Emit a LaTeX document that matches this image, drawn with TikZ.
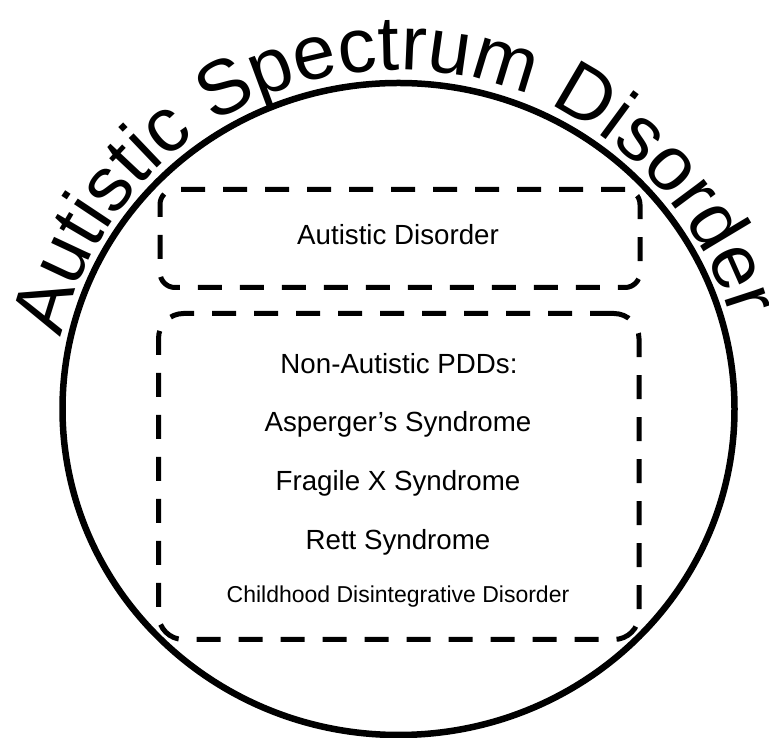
\documentclass[tikz,border=0pt]{standalone}
\usepackage{fontspec}
\setmainfont{Liberation Sans}
\usetikzlibrary{decorations.text}
\newcommand\arcfont{\fontsize{77}{84}\selectfont}
\begin{document}
\begin{tikzpicture}[x=1pt,y=1pt,
  dashbox/.style={draw, line width=5pt, dash pattern=on 24pt off 18pt, inner sep=0pt},
  labelbig/.style={anchor=base, font=\fontsize{27.7}{30}\selectfont, inner sep=0pt},
  labelsmall/.style={anchor=base, font=\fontsize{23}{26}\selectfont, inner sep=0pt}]
\useasboundingbox (0,0) rectangle (769,738);
\coordinate (c) at (398.5,329);
\coordinate (tc) at (398.5,322);
\draw[line width=6.5pt] (c) ellipse [x radius=336pt, y radius=326pt];
\path[decorate, decoration={text along path, text align=center,
  text={|\arcfont|Autistic Spectrum Disorder}}]
  ([shift={(173:346pt)}]tc) arc[start angle=173, end angle=10, radius=346pt];
\node[dashbox, rounded corners=15pt, minimum width=480pt, minimum height=98pt] (ad) at (400,499.5) {};
\node[dashbox, rounded corners=25pt, minimum width=480.5pt, minimum height=326pt] (pdd) at (398.75,261.5) {};
\node[labelbig] (t1) at (398,493) {Autistic Disorder};
\node[labelbig] (t2) at (399,364.7) {Non-Autistic PDDs:};
\node[labelbig] (t3) at (398,306) {Asperger’s Syndrome};
\node[labelbig] (t4) at (398,247.3) {Fragile X Syndrome};
\node[labelbig] (t5) at (398,188) {Rett Syndrome};
\node[labelsmall] (t6) at (398,135.3) {Childhood Disintegrative Disorder};
\end{tikzpicture}
\end{document}
